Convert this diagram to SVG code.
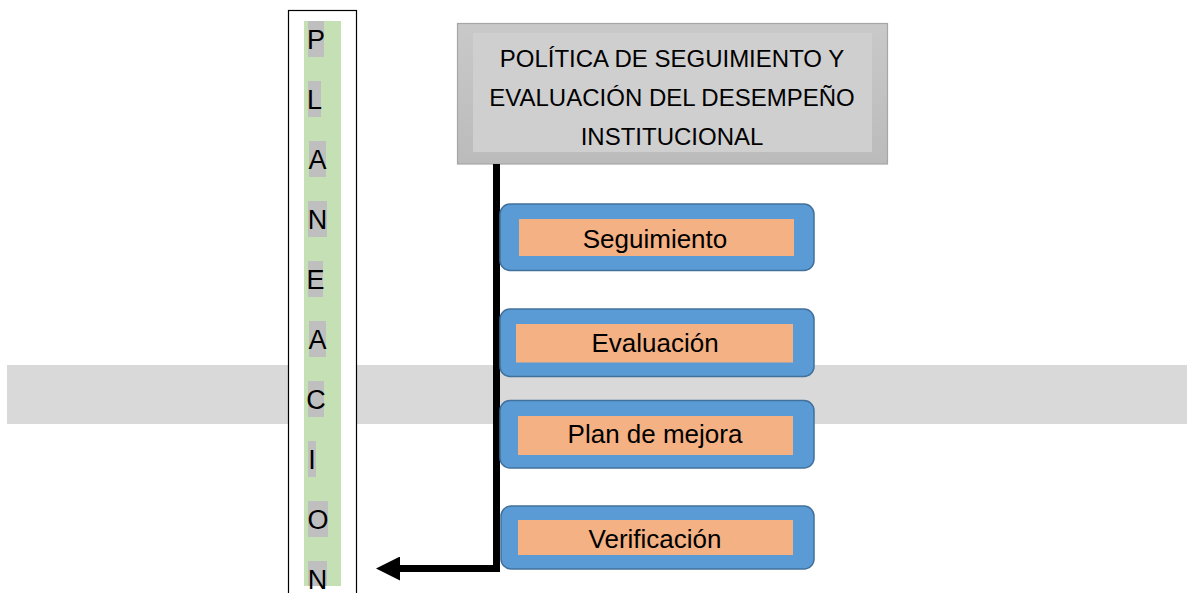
<svg xmlns="http://www.w3.org/2000/svg" width="1187" height="593" viewBox="0 0 1187 593">
<style>
  text { font-family: "Liberation Sans", Arial, sans-serif; fill: #000; }
  .title { font-size: 24px; text-anchor: middle; }
  .lbl { font-size: 26px; text-anchor: middle; }
  .ltr { font-size: 27px; text-anchor: middle; }
  .hl { fill: #bfbfbf; }
  .outer { fill: #5b9bd5; stroke: #41719c; stroke-width: 1.5; }
  .inner { fill: #f4b183; }
</style>
<defs>
  <linearGradient id="tg" x1="0" y1="0" x2="0" y2="1">
    <stop offset="0" stop-color="#c9c9c9"/>
    <stop offset="1" stop-color="#bbbbbb"/>
  </linearGradient>
  <marker id="ah" markerUnits="userSpaceOnUse" viewBox="0 0 24 24" markerWidth="24" markerHeight="24" refX="2" refY="12" orient="auto">
    <path d="M0,0 L24,12 L0,24 z" fill="#000"/>
  </marker>
</defs>
<rect width="1187" height="593" fill="#fff"/>
<!-- background band -->
<rect x="7" y="365" width="1180" height="59" fill="#d9d9d9"/>

<g id="planeacion">
  <rect x="288.5" y="10.5" width="68" height="590" fill="#fff" stroke="#000" stroke-width="1.2"/>
  <rect x="304" y="21" width="37" height="565" fill="#c5e0b4"/>
  <rect class="hl" x="308" y="21" width="16" height="36"/><text class="ltr" x="316" y="48.5">P</text>
  <rect class="hl" x="308" y="81" width="13" height="36"/><text class="ltr" x="314.5" y="108.5">L</text>
  <rect class="hl" x="309" y="141" width="17" height="36"/><text class="ltr" x="317.5" y="168.5">A</text>
  <rect class="hl" x="308" y="201" width="19" height="36"/><text class="ltr" x="317.5" y="228.5">N</text>
  <rect class="hl" x="308" y="261" width="15" height="36"/><text class="ltr" x="315.5" y="288.5">E</text>
  <rect class="hl" x="309" y="321" width="17" height="36"/><text class="ltr" x="317.5" y="348.5">A</text>
  <rect class="hl" x="308" y="381" width="16" height="36"/><text class="ltr" x="316" y="408.5">C</text>
  <rect class="hl" x="308" y="441" width="8" height="36"/><text class="ltr" x="312" y="468.5">I</text>
  <rect class="hl" x="308" y="501" width="20" height="36"/><text class="ltr" x="318" y="528.5">O</text>
  <rect class="hl" x="308" y="561" width="19" height="25"/><text class="ltr" x="317.5" y="588.5">N</text>
</g>

<g id="politica">
  <rect x="457.5" y="23.5" width="430" height="140.5" fill="url(#tg)" stroke="#a6a6a6" stroke-width="1.2"/>
  <rect x="473" y="33" width="399" height="119" fill="#d0cfcf"/>
  <text class="title" x="672" y="67">POLÍTICA DE SEGUIMIENTO Y</text>
  <text class="title" x="672" y="106">EVALUACIÓN DEL DESEMPEÑO</text>
  <text class="title" x="672" y="145">INSTITUCIONAL</text>
</g>

<g id="connectors">
  <path d="M496.5 164 L496.5 568.5 L398 568.5" fill="none" stroke="#000" stroke-width="7" stroke-linejoin="miter" marker-end="url(#ah)"/>
</g>

<g id="seguimiento">
  <rect class="outer" x="500" y="204" width="314" height="66.5" rx="10"/>
  <rect class="inner" x="519" y="219" width="275" height="37"/>
  <text class="lbl" x="655" y="248">Seguimiento</text>
</g>
<g id="evaluacion">
  <rect class="outer" x="500" y="309" width="314" height="67.5" rx="10"/>
  <rect class="inner" x="516" y="324" width="277" height="38.5"/>
  <text class="lbl" x="655" y="352">Evaluación</text>
</g>
<g id="plan">
  <rect class="outer" x="500" y="400.5" width="314" height="67.5" rx="10"/>
  <rect class="inner" x="518" y="416" width="275" height="39"/>
  <text class="lbl" x="655" y="443">Plan de mejora</text>
</g>
<g id="verificacion">
  <rect class="outer" x="501" y="506" width="313" height="63" rx="10"/>
  <rect class="inner" x="518" y="520" width="275" height="35"/>
  <text class="lbl" x="655" y="548">Verificación</text>
</g>
</svg>
